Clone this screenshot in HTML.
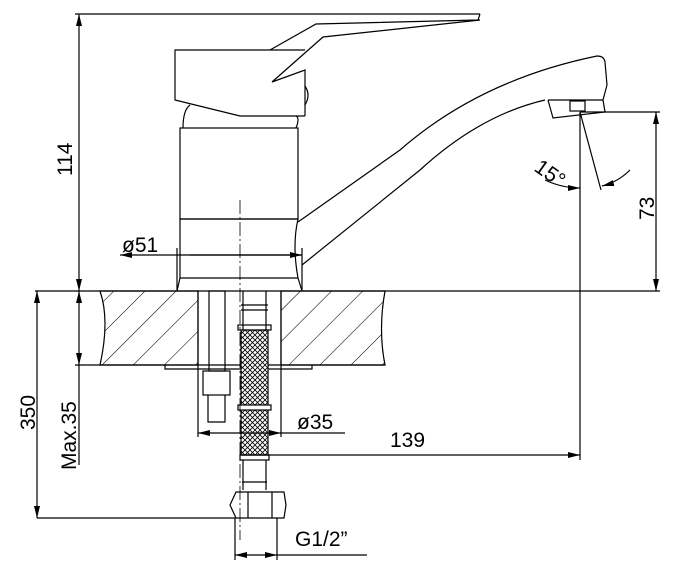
<!DOCTYPE html>
<html><head><meta charset="utf-8"><style>
body{margin:0;background:#fff}
svg{display:block}
text{font-family:"Liberation Sans",sans-serif;font-size:21px;fill:#000}
</style></head><body>
<svg width="676" height="572" viewBox="0 0 676 572" xmlns="http://www.w3.org/2000/svg">
<defs>
<pattern id="h" width="22" height="22" patternUnits="userSpaceOnUse" patternTransform="rotate(45)">
<line x1="0" y1="0" x2="0" y2="22" stroke="#000" stroke-width="1.1"/></pattern>
<pattern id="n" width="5" height="5" patternUnits="userSpaceOnUse">
<rect width="5" height="5" fill="#fff"/><path d="M0 0L5 5M5 0L0 5" stroke="#000" stroke-width="0.8"/></pattern>
<marker id="a" markerWidth="12" markerHeight="6" refX="12" refY="3" orient="auto" markerUnits="userSpaceOnUse"><path d="M0 0L12 3L0 6z" fill="#000"/></marker>
<marker id="b" markerWidth="12" markerHeight="6" refX="0" refY="3" orient="auto" markerUnits="userSpaceOnUse"><path d="M12 0L0 3L12 6z" fill="#000"/></marker>
</defs>
<g fill="none" stroke="#000" stroke-width="1.2">
<line x1="75" y1="14" x2="480" y2="14"/>
<path d="M270 50L316 24L478 20L480 14"/>
<path d="M480 20L323 37L272 82L305 70L305 116"/>
<path d="M305 50L175 50L175 100L240 116L305 116"/>
<path d="M305 86Q311 95 305 105"/>
<path d="M183 128Q183 110 190 105M296 128Q300 118 296 116"/>
<rect x="180" y="128" width="118" height="91"/>
<line x1="180" y1="219" x2="298" y2="219"/>
<path d="M180 219L180 278L298 278M298 219Q292 245 298 278"/>
<path d="M180 278L177 291M298 278L302 291"/>
<path d="M298 222L400 150Q480 80 597 56Q604 56 605 62L607 85L603 100L548 100"/>
<path d="M302 265L420 170Q480 115 545 100"/>
<path d="M548 100L553 118L605 112L603 100"/>
<rect x="570" y="101" width="15" height="10"/>
<line x1="120" y1="255" x2="302" y2="255" marker-start="url(#b)"/>
<line x1="190" y1="255" x2="302" y2="255" marker-end="url(#a)"/>
<line x1="177" y1="248" x2="177" y2="291"/>
<line x1="302" y1="248" x2="302" y2="291"/>
<line x1="35" y1="291" x2="660" y2="291"/>
<line x1="79" y1="14" x2="79" y2="291" marker-start="url(#b)" marker-end="url(#a)"/>
<line x1="580" y1="112" x2="580" y2="460"/>
<line x1="580" y1="112" x2="660" y2="112"/>
<line x1="656" y1="112" x2="656" y2="291" marker-start="url(#b)" marker-end="url(#a)"/>
<line x1="580" y1="112" x2="601" y2="190"/>
<path d="M545 180Q562 188 580 188" marker-end="url(#a)"/>
<path d="M630 170Q618 182 602 186" marker-end="url(#a)"/>
<path d="M100 291Q110 320 100 365L198 365L198 291Z" fill="url(#h)"/>
<path d="M281 291L385 291Q378 330 385 365L281 365Z" fill="url(#h)"/>
<line x1="75" y1="365" x2="385" y2="365"/>
<path d="M165 365L165 369L312 369L312 365"/>
<line x1="79" y1="291" x2="79" y2="365" marker-start="url(#b)" marker-end="url(#a)"/>
<line x1="79" y1="365" x2="79" y2="465"/>
<line x1="37" y1="291" x2="37" y2="518" marker-start="url(#b)" marker-end="url(#a)"/>
<line x1="37" y1="518" x2="235" y2="518"/>
<rect x="209" y="291" width="16" height="80"/>
<rect x="203" y="371" width="27" height="24"/>
<path d="M208 395L208 422L225 422L225 395"/>
<rect x="241" y="330" width="27" height="125" fill="url(#n)"/>
<path d="M243 291L243 330M266 291L266 330M241 305L268 305M241 310L268 310"/>
<rect x="238" y="325" width="33" height="5"/>
<rect x="238" y="405" width="33" height="5" fill="#fff"/>
<rect x="240" y="455" width="29" height="5"/>
<path d="M243 460L243 490M266 460L266 490M242 482L267 482"/>
<path d="M236 492L284 492L286 505L284 518L236 518L230 505Z"/>
<line x1="248" y1="492" x2="248" y2="518"/><line x1="272" y1="492" x2="272" y2="518"/>
<line x1="235" y1="518" x2="235" y2="560"/><line x1="277" y1="518" x2="277" y2="560"/>
<line x1="235" y1="555" x2="256" y2="555" marker-start="url(#b)"/>
<line x1="256" y1="555" x2="277" y2="555" marker-end="url(#a)"/>
<line x1="277" y1="555" x2="367" y2="555"/>
<line x1="198" y1="291" x2="198" y2="437"/><line x1="281" y1="291" x2="281" y2="437"/>
<line x1="198" y1="433" x2="240" y2="433" marker-start="url(#b)"/>
<line x1="240" y1="433" x2="281" y2="433" marker-end="url(#a)"/>
<line x1="281" y1="433" x2="345" y2="433"/>
<line x1="241" y1="455" x2="580" y2="455" marker-end="url(#a)"/>
<line x1="240" y1="200" x2="240" y2="540" stroke-width="0.8" stroke-dasharray="14 3 2 3"/>
</g>
<text x="122" y="252">ø51</text>
<text x="297" y="429">ø35</text>
<text x="390" y="447">139</text>
<text x="295" y="546">G1/2”</text>
<text transform="translate(72,176) rotate(-90)">114</text>
<text transform="translate(35,430) rotate(-90)">350</text>
<text transform="translate(76,470) rotate(-90)">Max.35</text>
<text transform="translate(654,220) rotate(-90)">73</text>
<text transform="translate(533,170) rotate(35)">15°</text>
</svg>
</body></html>
